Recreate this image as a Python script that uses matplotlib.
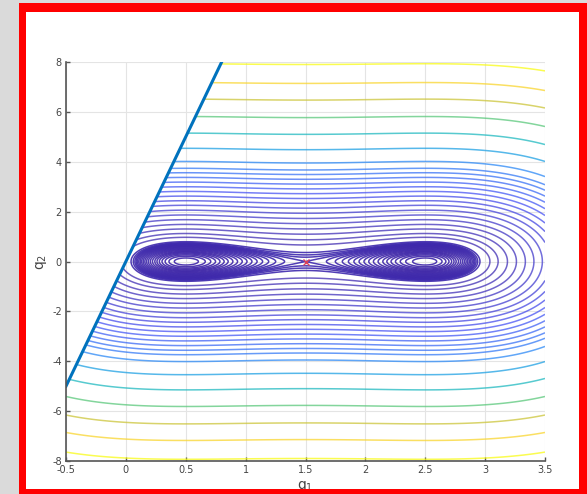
import numpy as np
import matplotlib
matplotlib.use("Agg")
import matplotlib.pyplot as plt
from matplotlib.colors import LinearSegmentedColormap
from matplotlib.patches import Rectangle

plt.rcParams["axes.unicode_minus"] = False

# contour levels (energy values)
inner_levels = [0.02, 0.045, 0.07, 0.095, 0.12, 0.145, 0.17, 0.20, 0.23, 0.26,
                0.29, 0.32, 0.35, 0.38, 0.41, 0.44, 0.47, 0.50]
band_levels = [0.53, 0.57, 0.63]
outer_levels = [0.94, 1.26, 1.70, 2.21, 2.81, 3.48, 4.24, 5.08, 5.94, 6.88,
                7.90, 8.98, 10.14, 11.37, 12.67, 13.97, 16.1]
coarse_levels = [20.6, 26.5, 33.8, 42.4, 51.5, 62.9]

# double well in q1: minima and saddle
well_centers = [0.5, 2.5]
well_depth = 0.5
saddle_q1 = [1.5]
saddle_q2 = [0.0]

# boundary line q2 = 10*q1
line_q1 = [-0.5, 0.8]
line_q2 = [-5.0, 8.0]

xticks = [-0.5, 0, 0.5, 1, 1.5, 2, 2.5, 3, 3.5]
xticklabels = ["-0.5", "0", "0.5", "1", "1.5", "2", "2.5", "3", "3.5"]
yticks = [-8, -6, -4, -2, 0, 2, 4, 6, 8]

parula = LinearSegmentedColormap.from_list("parula", [
    (0.00, (0.2422, 0.1504, 0.6603)),
    (0.125, (0.2810, 0.3228, 0.9579)),
    (0.25, (0.1786, 0.5289, 0.9682)),
    (0.375, (0.0689, 0.6948, 0.8394)),
    (0.50, (0.2161, 0.7843, 0.5923)),
    (0.625, (0.6720, 0.7793, 0.2227)),
    (0.75, (0.9970, 0.7659, 0.2199)),
    (0.875, (0.9600, 0.8900, 0.1500)),
    (1.00, (0.9769, 0.9839, 0.0805)),
])


def energy(q1, q2):
    w = ((q1 - well_centers[0]) * (q1 - well_centers[1])) ** 2
    return well_depth * w + q2 ** 2


def main():
    W, H = 587, 494
    fig = plt.figure(figsize=(W / 100, H / 100), dpi=100)
    fig.patch.set_facecolor("#dadada")

    # white panel behind the axes
    fig.add_artist(Rectangle((26 / W, 5 / H), (579 - 26) / W, (482 - 5) / H,
                             transform=fig.transFigure, facecolor="white",
                             edgecolor="none", zorder=-5))

    ax = fig.add_axes([66 / W, 33 / H, 479 / W, 399 / H])

    q1 = np.linspace(-0.5, 3.5, 1000)
    q2 = np.linspace(-8, 8, 1000)
    Q1, Q2 = np.meshgrid(q1, q2)
    Z = energy(Q1, Q2)
    Z = np.ma.masked_where(Q2 > 10 * Q1, Z)

    vmax = max(coarse_levels)
    # lobes (darker) and the open contours
    ax.contour(Q1, Q2, Z, levels=inner_levels + band_levels, cmap=parula,
               vmin=0, vmax=vmax, linewidths=1.1, alpha=0.9)
    ax.contour(Q1, Q2, Z, levels=outer_levels + coarse_levels, cmap=parula,
               vmin=0, vmax=vmax, linewidths=1.1, alpha=0.75)

    ax.plot(line_q1, line_q2, color=(0.0, 0.447, 0.741), lw=2.2)
    ax.plot(saddle_q1, saddle_q2, "x", color=(0.85, 0.25, 0.35), ms=4, mew=1)

    ax.set_xlim(-0.5, 3.5)
    ax.set_ylim(-8, 8)
    ax.set_xticks(xticks)
    ax.set_xticklabels(xticklabels)
    ax.set_yticks(yticks)
    ax.grid(True, color="#e4e4e4", lw=0.8)
    ax.set_axisbelow(True)
    for s in ["top", "right"]:
        ax.spines[s].set_visible(False)
    for s in ["left", "bottom"]:
        ax.spines[s].set_color("#555555")
        ax.spines[s].set_linewidth(1.2)
    ax.tick_params(direction="in", length=3, width=1, colors="#555555",
                   labelsize=7, labelcolor="#444444", pad=3)
    ax.set_xlabel("q$_1$", fontsize=10, color="#444444", labelpad=3)
    ax.set_ylabel("q$_2$", fontsize=10, color="#444444", labelpad=2)

    # red frame on top
    red = "#ff0000"
    for (x0, y0, x1, y1) in [(19, 0, 26, 491), (579, 0, 587, 491),
                             (19, 482, 587, 491), (19, 0, 587, 5)]:
        fig.add_artist(Rectangle((x0 / W, y0 / H), (x1 - x0) / W, (y1 - y0) / H,
                                 transform=fig.transFigure, facecolor=red,
                                 edgecolor="none", zorder=10))

    fig.savefig("out.png", dpi=100, facecolor=fig.get_facecolor())


if __name__ == "__main__":
    main()
